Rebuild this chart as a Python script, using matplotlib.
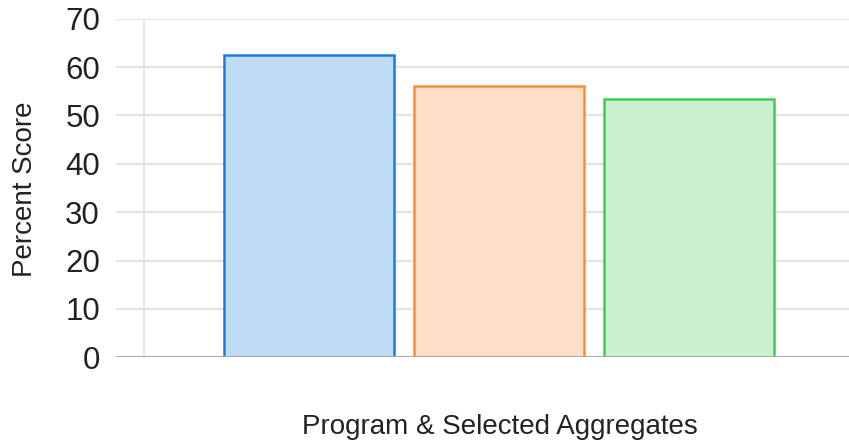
import matplotlib.pyplot as plt

# values
categories = ['Program', 'Aggregate 1', 'Aggregate 2']
scores = [62.4, 56.0, 53.4]
fills = ['#bedcf5', '#ffdfc5', '#c9f0cf']
edges = ['#1a7ae0', '#ff8c2e', '#3ccf4e']
yticks = [0, 10, 20, 30, 40, 50, 60, 70]

plt.rcParams['font.family'] = ['Liberation Sans', 'DejaVu Sans']

fig = plt.figure(figsize=(8.49, 4.47), dpi=100)
W, H = 849, 447
ax = fig.add_axes([116 / W, 1 - 357.3 / H, (849 - 116) / W, (357.3 - 18.7) / H])

x = list(range(len(categories)))
for i in x:
    ax.bar(i, scores[i], width=0.895, color=fills[i], edgecolor=edges[i],
           linewidth=1.8, zorder=3)

ax.set_ylim(0, 70)
ax.set_xlim(-1.016, 2.842)
ax.set_yticks(yticks)
ax.set_yticklabels([str(t) for t in yticks], fontsize=22.5, color='#222222')
ax.set_xticks([])
ax.tick_params(axis='y', length=0, pad=11.5)

for t in yticks[1:]:
    ax.axhline(t, color='#e4e4e4', linewidth=1.6, zorder=1)
ax.axvline(-0.868, color='#e4e4e4', linewidth=1.6, zorder=1)
ax.axhline(0, color='#aaaaaa', linewidth=2.2, zorder=4)

for s in ax.spines.values():
    s.set_visible(False)

fig.text(25 / W, 1 - 189 / H, 'Percent Score', rotation=90, fontsize=20,
         ha='center', va='center', color='#222222')
fig.text(500 / W, 1 - 427 / H, 'Program & Selected Aggregates', fontsize=20,
         ha='center', va='center', color='#222222')

fig.savefig('out.png', dpi=100)
